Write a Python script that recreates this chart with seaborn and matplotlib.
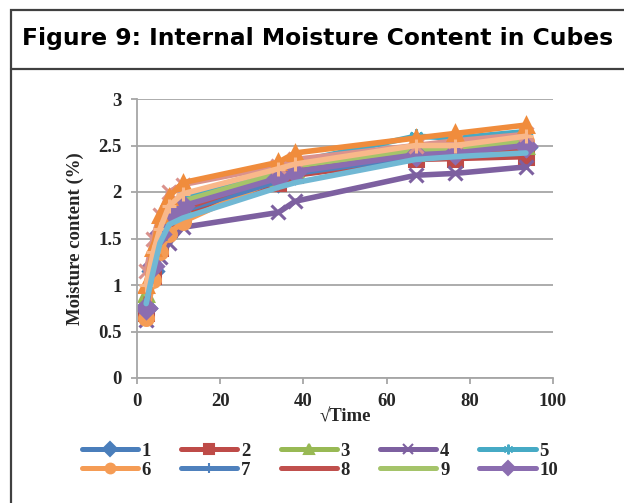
import matplotlib
matplotlib.use("Agg")
import matplotlib.pyplot as plt
from matplotlib.patches import Rectangle
from matplotlib.lines import Line2D
import seaborn as sns
import pandas as pd

# square root of elapsed time at each sampling
sqrt_time = [2.2, 3.9, 5.5, 7.7, 11.0, 34.0, 38.0, 67.0, 76.5, 93.5]

# moisture content (%) per cube
cube_1 = [0.75, 1.15, 1.45, 1.65, 1.78, 2.12, 2.20, 2.40, 2.42, 2.48]
cube_2 = [0.70, 1.10, 1.40, 1.60, 1.75, 2.10, 2.18, 2.35, 2.36, 2.38]
cube_3 = [0.90, 1.30, 1.55, 1.75, 1.85, 2.15, 2.25, 2.42, 2.45, 2.50]
cube_4 = [0.62, 1.10, 1.30, 1.45, 1.62, 1.78, 1.90, 2.18, 2.20, 2.27]
cube_5 = [0.70, 1.20, 1.60, 1.85, 1.95, 2.25, 2.32, 2.60, 2.58, 2.65]
cube_6 = [0.65, 1.05, 1.35, 1.55, 1.68, 2.15, 2.25, 2.45, 2.47, 2.55]
cube_7 = [0.80, 1.20, 1.50, 1.70, 1.80, 2.12, 2.20, 2.38, 2.40, 2.45]
cube_8 = [0.85, 1.25, 1.50, 1.72, 1.82, 2.18, 2.27, 2.40, 2.42, 2.47]
cube_9 = [0.90, 1.35, 1.62, 1.80, 1.90, 2.20, 2.28, 2.45, 2.45, 2.55]
cube_10 = [0.75, 1.20, 1.55, 1.75, 1.85, 2.15, 2.22, 2.40, 2.42, 2.50]
cube_11 = [1.15, 1.50, 1.75, 2.00, 2.08, 2.28, 2.35, 2.50, 2.55, 2.62]
cube_12 = [1.00, 1.40, 1.75, 1.95, 2.10, 2.32, 2.42, 2.58, 2.63, 2.72]
cube_13 = [1.00, 1.35, 1.60, 1.85, 1.98, 2.25, 2.30, 2.50, 2.50, 2.60]
cube_14 = [0.80, 1.15, 1.45, 1.65, 1.72, 2.05, 2.10, 2.35, 2.38, 2.42]

series = [cube_1, cube_2, cube_3, cube_4, cube_5, cube_6, cube_7,
          cube_8, cube_9, cube_10, cube_11, cube_12, cube_13, cube_14]
labels = ["1", "2", "3", "4", "5", "6", "7", "8", "9", "10",
          None, None, None, None]

colors = ["#4A7EBB", "#BE4B48", "#98B954", "#7D60A0", "#46AAC5", "#F59C55",
          "#4F81BD", "#C0504D", "#A5C46A", "#8B6DB0",
          "#DA928D", "#F08C3C", "#F9B88A", "#71B8D4"]
markers = ["D", "s", "^", "x", (6, 2, 0), "o", "+", None, None, "D",
           "x", "^", "+", None]

sns.set_theme(style="white")
plt.rcParams["font.family"] = ["Liberation Serif", "DejaVu Serif"]

fig = plt.figure(figsize=(6.24, 5.03), dpi=100)

# outer frame and title divider
fig.patches.append(Rectangle((11 / 624, -0.05), 1.0, 1 - 10 / 503 + 0.05,
                             transform=fig.transFigure, fill=False,
                             edgecolor="#404040", linewidth=1.6))
fig.lines.append(Line2D([11 / 624, 1.0], [1 - 69 / 503, 1 - 69 / 503],
                        transform=fig.transFigure, color="#404040",
                        linewidth=1.6))
fig.text(318 / 624, 1 - 39 / 503, "Figure 9: Internal Moisture Content in Cubes",
         ha="center", va="center", fontsize=16.8, fontweight="bold",
         family="DejaVu Sans", color="black")

ax = fig.add_axes([137 / 624, 1 - 378 / 503, (553 - 137) / 624, (378 - 99) / 503])

for vals, lab, col, mk in zip(series, labels, colors, markers):
    df = pd.DataFrame({"t": sqrt_time, "m": vals})
    sns.lineplot(data=df, x="t", y="m", ax=ax, color=col, marker=mk,
                 markersize=10, markeredgewidth=2.2, markeredgecolor=col,
                 linewidth=4, label=lab if lab else "_nolegend_",
                 sort=False, legend=False)

ax.set_xlim(0, 100)
ax.set_ylim(0, 3)
ax.set_xticks([0, 20, 40, 60, 80, 100])
ax.set_yticks([0, 0.5, 1, 1.5, 2, 2.5, 3])
ax.set_yticklabels(["0", "0.5", "1", "1.5", "2", "2.5", "3"])
ax.grid(axis="y", color="#A6A6A6", linewidth=1.3)
ax.set_axisbelow(True)
for side in ["top", "right"]:
    ax.spines[side].set_visible(False)
for side in ["left", "bottom"]:
    ax.spines[side].set_color("#A6A6A6")
    ax.spines[side].set_linewidth(1.3)
ax.tick_params(axis="both", which="major", length=4, width=1.3,
               color="#A6A6A6", labelsize=13.5, pad=7, direction="out",
               bottom=True, left=True)
for t in ax.get_xticklabels() + ax.get_yticklabels():
    t.set_fontweight("bold")
ax.set_xlabel("√Time", fontsize=13.5, fontweight="bold", labelpad=-1)
ax.set_ylabel("Moisture content (%)", fontsize=13.5, fontweight="bold", labelpad=10)

handles = []
for lab, col, mk in zip(labels[:10], colors[:10], markers[:10]):
    handles.append(Line2D([], [], color=col, marker=mk, markersize=7,
                          markeredgewidth=1.5, linewidth=3.6, label=lab))
# legend fills column by column; order so rows read 1-5 and 6-10
order = [0, 5, 1, 6, 2, 7, 3, 8, 4, 9]
fig.legend(handles=[handles[i] for i in order], ncol=5, loc="upper center",
           bbox_to_anchor=(320 / 624, 1 - 435 / 503), frameon=False,
           prop={"weight": "bold", "size": 13.5}, handlelength=3.0,
           handletextpad=0.2, columnspacing=1.6, labelspacing=0.1,
           borderaxespad=0)

fig.savefig("out.png", dpi=100)
